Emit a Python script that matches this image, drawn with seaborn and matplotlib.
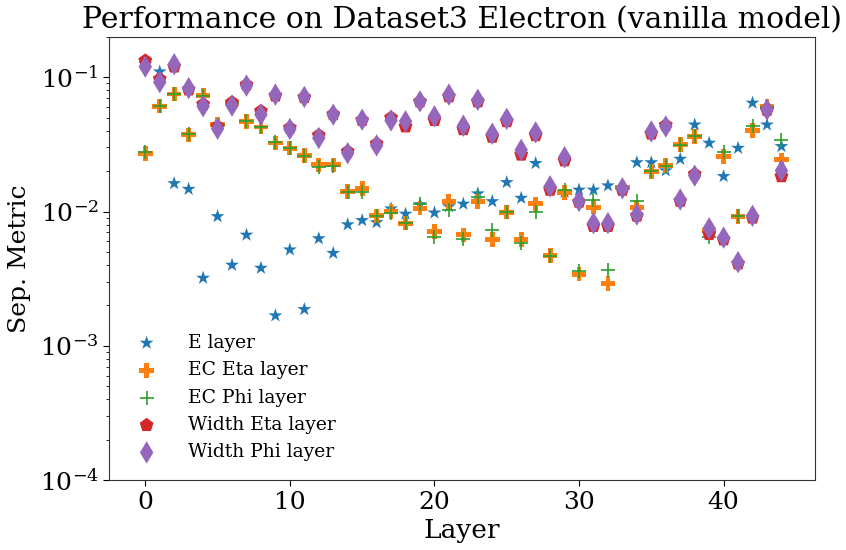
import matplotlib
matplotlib.use("Agg")
import matplotlib.pyplot as plt
import seaborn as sns
import numpy as np

layers = list(range(45))

e_layer = [0.125, 0.110, 0.0162, 0.0147, 0.0032, 0.0092, 0.0040, 0.0067, 0.0038, 0.00168,
           0.0052, 0.00187, 0.0063, 0.0049, 0.0080, 0.0086, 0.0083, 0.0105, 0.0096, 0.0113,
           0.0098, 0.0109, 0.0114, 0.0136, 0.0119, 0.0165, 0.0126, 0.0229, 0.0150, 0.0140,
           0.0145, 0.0145, 0.0156, 0.0148, 0.0232, 0.0232, 0.0202, 0.0246, 0.0443, 0.0324,
           0.0183, 0.0297, 0.0644, 0.0443, 0.0306]

ec_eta = [0.027, 0.061, 0.075, 0.0373, 0.0734, 0.0443, 0.064, 0.047, 0.0426, 0.0324,
          0.0297, 0.0261, 0.0223, 0.0223, 0.0141, 0.0149, 0.0093, 0.0100, 0.0082, 0.0106,
          0.0071, 0.0119, 0.0067, 0.0119, 0.0062, 0.0099, 0.0062, 0.0114, 0.0047, 0.0139,
          0.00342, 0.0108, 0.0029, 0.0150, 0.0108, 0.0199, 0.0220, 0.0315, 0.0363, 0.0072,
          0.0257, 0.0092, 0.0400, 0.0610, 0.0243]

ec_phi = [0.028, 0.061, 0.075, 0.038, 0.073, 0.044, 0.064, 0.047, 0.0426, 0.033,
          0.0297, 0.0261, 0.0215, 0.022, 0.0141, 0.0141, 0.0093, 0.0097, 0.0082, 0.0114,
          0.0065, 0.0103, 0.0062, 0.0129, 0.0073, 0.0099, 0.0058, 0.0100, 0.0047, 0.0145,
          0.0036, 0.0122, 0.0037, 0.0152, 0.0119, 0.0199, 0.0220, 0.0315, 0.0363, 0.0065,
          0.0280, 0.0092, 0.0430, 0.0600, 0.0339]

width_eta = [0.133, 0.097, 0.120, 0.081, 0.063, 0.043, 0.065, 0.088, 0.056, 0.073,
             0.042, 0.071, 0.037, 0.053, 0.028, 0.048, 0.032, 0.050, 0.043, 0.066,
             0.048, 0.072, 0.041, 0.066, 0.036, 0.047, 0.0265, 0.037, 0.0145, 0.024,
             0.0118, 0.0078, 0.0078, 0.0145, 0.0093, 0.038, 0.044, 0.012, 0.019, 0.0068,
             0.0062, 0.0041, 0.0090, 0.057, 0.0183]

width_phi = [0.120, 0.092, 0.125, 0.083, 0.0608, 0.0414, 0.0615, 0.0867, 0.0527, 0.0743,
             0.0412, 0.0714, 0.0353, 0.0527, 0.0272, 0.0483, 0.0311, 0.0477, 0.047, 0.0662,
             0.0512, 0.0743, 0.0436, 0.068, 0.038, 0.049, 0.0288, 0.0389, 0.0154, 0.0254,
             0.0120, 0.0082, 0.0082, 0.0149, 0.0095, 0.0395, 0.043, 0.0123, 0.0185, 0.0075,
             0.0064, 0.0042, 0.0093, 0.0574, 0.0202]

series = [
    ("E layer", e_layer, "*", "C0", 110),
    ("EC Eta layer", ec_eta, "P", "C1", 110),
    ("EC Phi layer", ec_phi, "+", "C2", 110),
    ("Width Eta layer", width_eta, "p", "C3", 110),
    ("Width Phi layer", width_phi, "d", "C4", 130),
]

sns.set_style("ticks")
plt.rcParams["font.family"] = ["DejaVu Serif"]
plt.rcParams["mathtext.fontset"] = "dejavuserif"
plt.rcParams["text.color"] = "black"
plt.rcParams["axes.labelcolor"] = "black"
plt.rcParams["xtick.color"] = "black"
plt.rcParams["ytick.color"] = "black"

fig = plt.figure(figsize=(8.46, 5.5), dpi=100)
ax = fig.add_axes([0.129, 0.127, 0.834, 0.806])

for label, vals, mk, col, s in series:
    if mk == "+":
        sns.scatterplot(x=layers, y=vals, marker=mk, color=col, s=s, ax=ax,
                        label=label, linewidth=1.2)
    else:
        sns.scatterplot(x=layers, y=vals, marker=mk, color=col, s=s, ax=ax,
                        label=label, edgecolor="none", linewidth=0)

ax.set_yscale("log")
ax.set_ylim(1e-4, 0.2)
ax.set_xlim(-2.5, 46.3)
ax.set_xticks([0, 10, 20, 30, 40])
ax.tick_params(axis="both", which="major", labelsize=18, length=4,
               color="black", labelcolor="black")
ax.tick_params(axis="y", which="minor", length=2, color="black")
for sp in ax.spines.values():
    sp.set_color("#333333")
ax.set_xlabel("Layer", fontsize=19, labelpad=3, color="black")
ax.set_ylabel("Sep. Metric", fontsize=18, labelpad=6, color="black")
ax.set_title("Performance on Dataset3 Electron (vanilla model)", fontsize=21.5,
             pad=6, color="black")

leg = ax.legend(loc="lower left", frameon=False, fontsize=13.5, handletextpad=1.2,
                labelspacing=0.5, borderaxespad=0.6)
for t in leg.get_texts():
    t.set_color("black")

fig.savefig("out.png", dpi=100)
